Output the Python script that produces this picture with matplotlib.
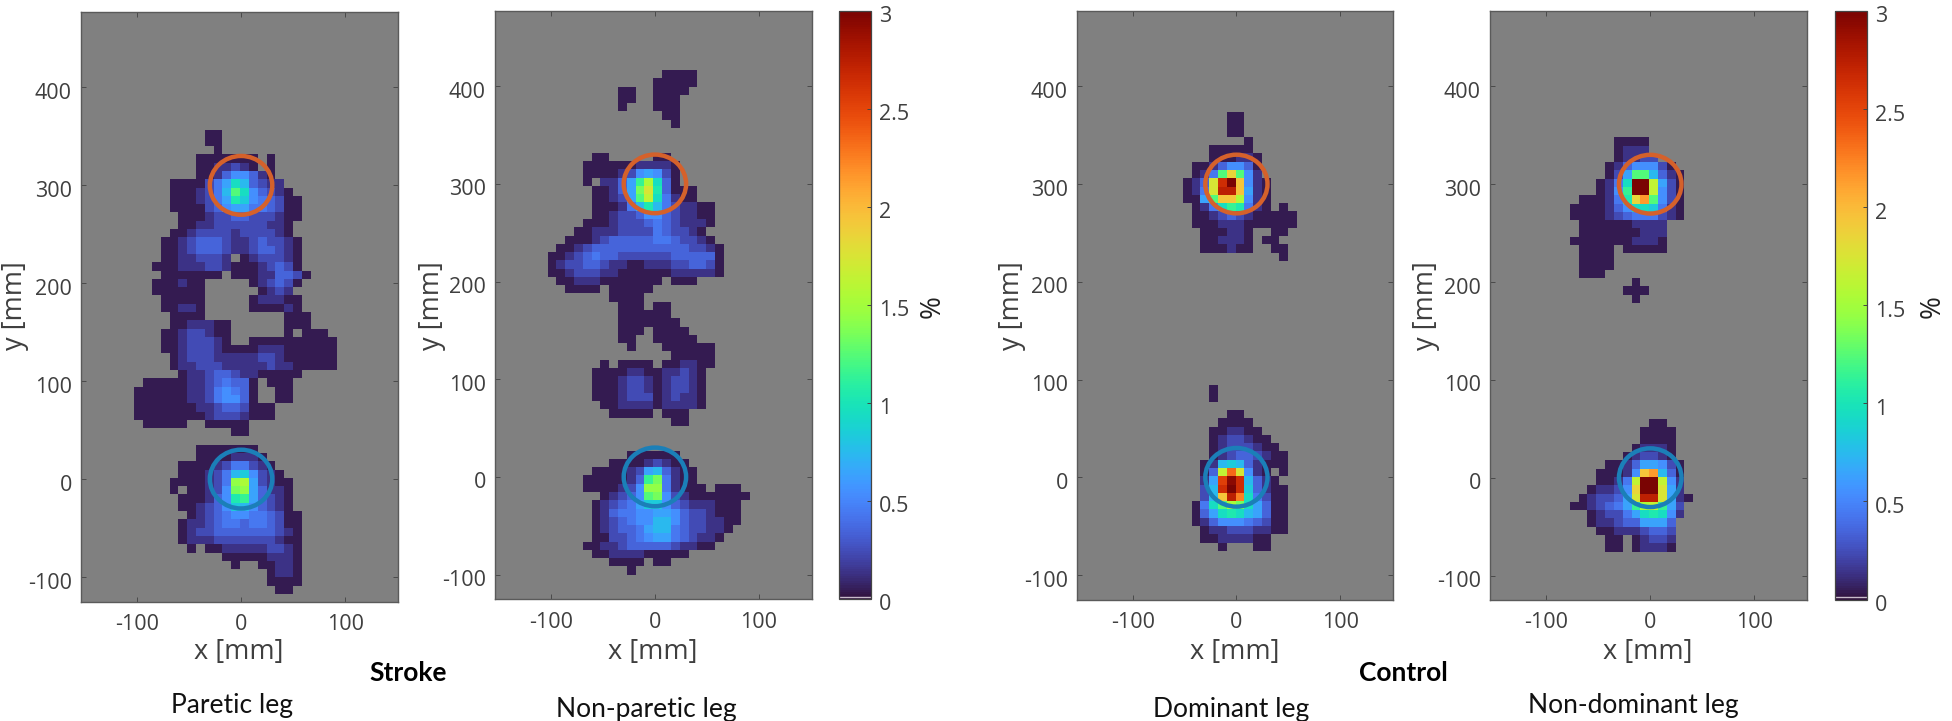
import numpy as np
import matplotlib
matplotlib.use("Agg")
import matplotlib.pyplot as plt
from matplotlib.patches import Ellipse
from matplotlib.transforms import ScaledTranslation

W, H = 1952, 721
plt.rcParams['font.family'] = ['Open Sans', 'DejaVu Sans']
plt.rcParams['axes.unicode_minus'] = False

# Each string is a row of sensor cells, '.' = no data, base-36 digit = value in tenths of a percent
PARETIC = [
"........00","........00",".........0",".......0000000.0",".......0011210.0",".......001355310",
"....0000246973211","....0001247c953210","....0001246a8543200","....000023566443200",
".....00012233222100",".....0011222222110","....00122221222210","...0012333211232210",
"...0012333211233210","...00112221.0122210","..00011122100012320","...0000000.000113320",
"..000100.....012320","..000000......0121","...00000.....011100","...00110.....000010",
"....0000.........000","....0011100......000","...00122100......0.000","...00122210..0000000000",
"...00122210000111000000","....0122211111221000000","....0112221111121100000",".....01123321100000",
".0000011234330.000","00000011245430..00","00000011245530..00","0000000112332000","0000000012221000",
".00000..00000","...........00","",".......0000000",".......00001110",".....00001244210",
".....000124785210","....0000124ef62100","....0.00125de63110",".....000135ab63210",".....0012358753210",
"......0123455443200",".....01123443443200",".....01223333333210",".....01112222222100",
"......0.00111112210","..........000001110","...........0..00110","...............0110",
"...............0000","................00",
]
NON_PARETIC = [
".............0000","............00000","........00..0000","........00..000","........0...000",
".............00","..............0","","","",".....00.....00","....00000011110","....00001256520",
"....0.1136bf930",".....00136dha3000",".....00126cg94100",".....000147a7421100",".....00122355321100",
"....000122234321110","...001112222432210","..00012333334432210",".0012333333333332210",
"00123433222222333330","01223321100111223320","00122211000000111110",".001110000000.000",
"..0000.00000",".......0000","........000.00","........000000","........0000000","........000.0000",
"........00..00000",".........0...000000","..............00000","......0.0000.001100",
".....0000110011210",".....0001221012210",".....0001221012210",".....0001222012110","......001111011110",
".......00000.000","..............00","","","",".........000000",".......000012100",".....000012673100",
"....0000013bd4100","....0000125ee41000.000","......01235cd5210000000",".....01234688532111000",
".....01344556653221000",".....01234557753221100",".....0123346774322110",".....002234566432110",
"....001123333321100",".....00111100000",".......0000.00",".........0",
]
DOMINANT = [
".....00",".....00",".....00",".......0","...00000","...000110",".00135530",".014cic51","013hquj510",
"014hrrj610","006cjjf510",".0149ba410.0",".001232100000",".000111000000","..000110..00","..001110.00",
"..000100..00","...........0","","","","","","","","","","","","","","","","...0","...0","",
".....00","....0000","...001100","...0122100","...01222100","...012332100","..0178731000","..03gnh510.0",
"..16ptq7310","..27quq83100","..27jrm94200",".049cfd96300",".0369a976300",".01355543200","..0112221100",
"..00111100","....0...00",
]
NON_DOMINANT = [
".....0000",".....0111",".....01122","....01355520","....026cc7310","...0149uug620","...015buug520",
".00014ailc520","0000135998410","0000123444210",".0000001111",".0000000111","00000001110",".0000.00000",
".0000",".0000",".000",".......0","......000",".......0","","","","","","","","","","","","","","",
".........00","........0000","........0000",".......01110","......012210","....001366520","...00015jl730",
"...0014guug51","..01125iuuh61",".012236hrrh610","0012346bfgb62","..0122469a951","..0112336663",
"...001112332","....00.01221","....00.01110",
]
PANEL_ROWS = [PARETIC, NON_PARETIC, DOMINANT, NON_DOMINANT]
GRID_LEFT = [-102.6, -103.2, -51.6, -77.2]     # mm, left edge of first column
GRID_TOP = [357.0, 416.5, 373.7, 348.0]        # mm, top edge of first row
CELL = 8.47                                    # mm
X_TICKS = [-100, 0, 100]
Y_TICKS = [-100, 0, 100, 200, 300, 400]
CB_TICKS = [0, 0.5, 1, 1.5, 2, 2.5, 3]
CB_LABELS = ['0', '0.5', '1', '1.5', '2', '2.5', '3']
CIRCLE_CENTRES = [(0, 300), (0, 0)]
CIRCLE_RADIUS = 30

AX_PX = [(81, 398, 12, 601.5), (495, 811.7, 11, 599), (1077, 1392.7, 11, 599.5), (1490, 1807.3, 11, 600)]
CB_PX = [(839.3, 871, 11, 599), (1835.3, 1866.7, 11, 599.5)]
YLABEL_X = [15, 432, 1012, 1426]
TXT = '#3f3f3f'


def rect(l, r, t, b):
    return [l / W, 1 - b / H, (r - l) / W, (b - t) / H]


def decode(rows):
    nr, nc = len(rows), 40
    a = np.full((nr, nc), np.nan)
    for i, row in enumerate(rows):
        for j, ch in enumerate(row):
            if ch != '.':
                a[i, j] = int(ch, 36) / 10 + 0.04
    return np.ma.masked_invalid(a)


fig = plt.figure(figsize=(W / 100, H / 100), dpi=100, facecolor='white')
shift_y = ScaledTranslation(0, -3.5 / 100, fig.dpi_scale_trans)
mesh = None

for k in range(4):
    ax = fig.add_axes(rect(*AX_PX[k]), facecolor='#808080')
    data = decode(PANEL_ROWS[k])
    xe = GRID_LEFT[k] + CELL * np.arange(data.shape[1] + 1)
    ye = GRID_TOP[k] - CELL * np.arange(data.shape[0] + 1)
    mesh = ax.pcolormesh(xe, ye, data, cmap='turbo', vmin=0, vmax=3, linewidth=0, rasterized=True)
    for centre, colour in zip(CIRCLE_CENTRES, ['#d5612b', '#1b7fb8']):
        ax.add_patch(Ellipse(centre, 2 * CIRCLE_RADIUS, 2 * CIRCLE_RADIUS, fill=False, edgecolor=colour, linewidth=3.2))
    ax.set_xlim(-153.8, 150.8)
    ax.set_ylim(-125, 477)
    ax.set_xticks(X_TICKS)
    ax.set_yticks(Y_TICKS)
    ax.tick_params(direction='in', length=3.5, width=0.7, color='#4a4a4a', top=True, right=True,
                   labelcolor=TXT, labelsize=15.5)
    ax.tick_params(axis='x', pad=9)
    ax.tick_params(axis='y', pad=6.5)
    for lab in ax.get_yticklabels():
        lab.set_transform(lab.get_transform() + shift_y)
    for s in ax.spines.values():
        s.set_color('#5a5a5a')
        s.set_linewidth(1.0)
    cx = (AX_PX[k][0] + AX_PX[k][1]) / 2
    fig.text((cx - 0.5) / W, 1 - 652 / H, 'x [mm]', ha='center', va='center', fontsize=19.5, color=TXT)
    fig.text(YLABEL_X[k] / W, 1 - 306 / H, 'y [mm]', ha='center', va='center', rotation=90, fontsize=19.5, color=TXT)

for (l, r, t, b), lx in zip(CB_PX, [933, 1933]):
    cax = fig.add_axes(rect(l, r, t, b))
    cb = fig.colorbar(mesh, cax=cax, ticks=CB_TICKS)
    cb.ax.set_yticklabels(CB_LABELS)
    cb.ax.tick_params(direction='in', length=3, width=0.7, color='#444444', labelcolor=TXT, labelsize=15.5, pad=6)
    for lab in cb.ax.get_yticklabels():
        lab.set_transform(lab.get_transform() + shift_y)
    cb.ax.axhline(0.012, color='#c9bccb', linewidth=1.0)
    cb.outline.set_edgecolor('#444444')
    cb.outline.set_linewidth(0.9)
    fig.text(lx / W, 1 - 307 / H, '%', ha='center', va='center', rotation=90, fontsize=20, color='#222222')

FOOT = [('Paretic leg', 232, 706), ('Non-paretic leg', 646, 709), ('Dominant leg', 1231, 709), ('Non-dominant leg', 1633, 706)]
for s, x, y in FOOT:
    fig.text(x / W, 1 - y / H, s, ha='center', va='center', fontsize=19, family='Lato', color='#111111')
for s, x, y in [('Stroke', 408, 673), ('Control', 1403, 673)]:
    fig.text(x / W, 1 - y / H, s, ha='center', va='center', fontsize=19, family='Lato', weight='bold', color='black')

fig.savefig('out.png', dpi=100, facecolor='white')
